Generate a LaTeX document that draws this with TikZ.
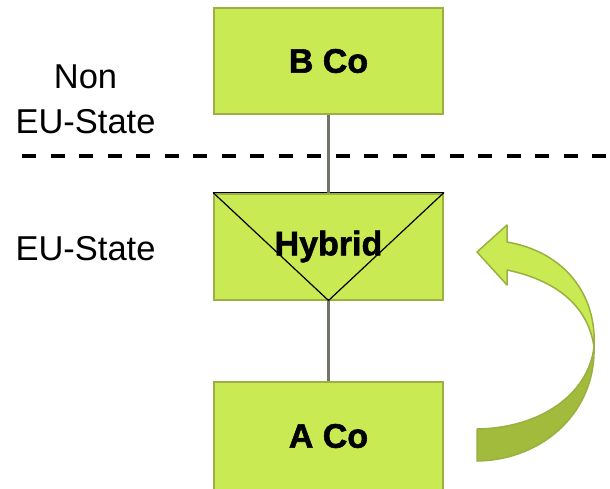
\documentclass[tikz,border=0pt]{standalone}
\usepackage{fontspec}
\setmainfont{Liberation Sans}
\newfontfamily\heavyfont[FakeBold=1.6]{Liberation Sans Bold}
\definecolor{lime}{HTML}{C9EA52}
\definecolor{limedark}{HTML}{A2BB3C}
\definecolor{olive}{HTML}{9AB040}
\definecolor{connector}{HTML}{737368}
\begin{document}
\begin{tikzpicture}[x=1pt,y=-1pt,
  company/.style={draw=olive,line width=2pt,fill=lime,minimum width=229pt,
    minimum height=106pt,inner sep=0pt,font=\heavyfont\fontsize{34}{36}\selectfont},
  region/.style={font=\fontsize{34.5}{45}\selectfont,align=center,inner sep=0pt},
  link/.style={connector,line width=3.5pt}]
\useasboundingbox (0,0) rectangle (610,488);
% jurisdiction boundary
\draw[line width=4pt,dash pattern=on 14pt off 14.5pt] (22,156) -- (606,156);
% companies
\node[company] (b) at (328.5,61) {B Co};
\node[company] (h) at (328.5,246.5) {};
\node[company,minimum height=108pt] (a) at (328.5,436) {A Co};
% hybrid marker: black top edge and V
\draw[line width=1.5pt] (h.north west) -- (h.north east);
\draw[line width=1.2pt] (h.north west) -- (h.south) -- (h.north east);
\node[font=\heavyfont\fontsize{34}{36}\selectfont] (ht) at (h.center) {Hybrid};
% connectors
\draw[link] (b.south) -- (h.north);
\draw[link] (h.south) -- (a.north);
% region labels
\node[region,anchor=base] (non) at (85.5,133) {Non\\EU-State};
\node[region,anchor=base] (eu) at (85.5,260) {EU-State};
% curved arrow: rear half
\fill[limedark,draw=olive,line width=1.5pt,line join=round]
  (477,429) .. controls (540,428) and (588,395) .. (594,347)
  .. controls (596,410) and (545,460) .. (477,461) -- cycle;
% curved arrow: front half with head
\fill[lime,draw=olive,line width=1.5pt,line join=round]
  (594,347) .. controls (597,295) and (565,252) .. (507,242)
  -- (507,225) -- (477,252) -- (507,285) -- (507,270)
  .. controls (555,280) and (588,305) .. (594,347) -- cycle;
\end{tikzpicture}
\end{document}
